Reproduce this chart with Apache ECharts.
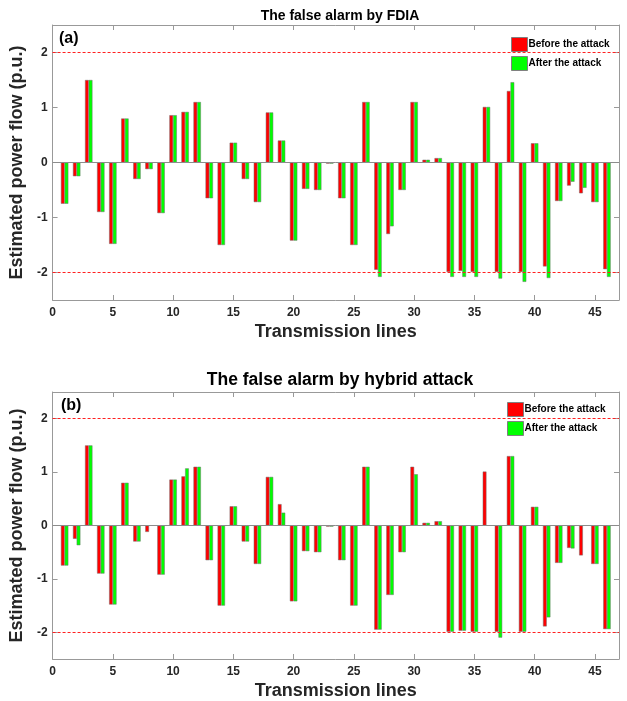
<!DOCTYPE html>
<html>
<head>
<meta charset="utf-8">
<script src="https://cdn.jsdelivr.net/npm/echarts@6/dist/echarts.min.js"></script>
<style>
html,body{margin:0;padding:0;background:#fff;}
#main{width:627px;height:701px;}
</style>
</head>
<body>
<div id="main"></div>
<script>
var lines = [1,2,3,4,5,6,7,8,9,10,11,12,13,14,15,16,17,18,19,20,21,22,23,24,25,26,27,28,29,30,31,32,33,34,35,36,37,38,39,40,41,42,43,44,45,46];
var beforeA = [-0.75,-0.25,1.5,-0.9,-1.48,0.8,-0.3,-0.12,-0.92,0.86,0.92,1.1,-0.65,-1.5,0.36,-0.3,-0.72,0.91,0.4,-1.42,-0.48,-0.5,-0.02,-0.65,-1.5,1.1,-1.95,-1.3,-0.5,1.1,0.05,0.08,-1.99,-1.97,-1.99,1.01,-1.99,1.3,-1.99,0.35,-1.89,-0.7,-0.42,-0.56,-0.72,-1.94];
var afterA = [-0.75,-0.25,1.5,-0.9,-1.48,0.8,-0.3,-0.12,-0.92,0.86,0.92,1.1,-0.65,-1.5,0.36,-0.3,-0.72,0.91,0.4,-1.42,-0.48,-0.5,-0.02,-0.65,-1.5,1.1,-2.08,-1.16,-0.5,1.1,0.05,0.08,-2.08,-2.08,-2.08,1.01,-2.11,1.46,-2.17,0.35,-2.1,-0.7,-0.35,-0.46,-0.72,-2.08];
var beforeB = [-0.75,-0.25,1.5,-0.9,-1.48,0.8,-0.3,-0.12,-0.92,0.86,0.92,1.1,-0.65,-1.5,0.36,-0.3,-0.72,0.91,0.4,-1.42,-0.48,-0.5,-0.02,-0.65,-1.5,1.1,-1.95,-1.3,-0.5,1.1,0.05,0.08,-1.99,-1.97,-1.99,1.01,-1.99,1.3,-1.99,0.35,-1.89,-0.7,-0.42,-0.56,-0.72,-1.94];
var afterB = [-0.75,-0.37,1.5,-0.9,-1.48,0.8,-0.3,0,-0.92,0.86,1.07,1.1,-0.65,-1.5,0.36,-0.3,-0.72,0.91,0.24,-1.42,-0.48,-0.5,-0.02,-0.65,-1.5,1.1,-1.95,-1.3,-0.5,0.96,0.05,0.08,-1.99,-1.97,-1.99,0,-2.1,1.3,-1.99,0.35,-1.72,-0.7,-0.43,0,-0.72,-1.94];
var thresholds = [2,-2];
var baseline = [0];
var titles = ['The false alarm by FDIA','The false alarm by hybrid attack'];
var panelTags = ['(a)','(b)'];
var legendNames = ['Before the attack','After the attack'];

function pairs(vals){ return lines.map(function(x,i){ return [x, vals[i]]; }); }

var FONT = '"Liberation Sans", Arial, sans-serif';
var AX = '#999999';
var TXT = '#262626';

var grids = [
  {left:51, right:8, top:25, height:275},
  {left:51, right:8, top:392, height:267}
];

function xMain(g){
  return {type:'value', gridIndex:g, min:0, max:47, interval:5, position:'bottom',
    name:'Transmission lines', nameLocation:'middle', nameGap:23,
    nameTextStyle:{fontFamily:FONT, fontWeight:'bold', fontSize:18, color:TXT},
    axisLine:{show:true, onZero:false, lineStyle:{color:AX, width:1}},
    axisTick:{show:true, inside:true, length:5, lineStyle:{color:AX}},
    axisLabel:{show:true, showMaxLabel:false, margin:7, fontFamily:FONT, fontWeight:'bold', fontSize:12, color:TXT},
    splitLine:{show:false}};
}
function xTop(g){
  return {type:'value', gridIndex:g, min:0, max:47, interval:5, position:'top',
    axisLine:{show:true, onZero:false, lineStyle:{color:AX, width:1}},
    axisTick:{show:true, inside:true, length:5, lineStyle:{color:AX}},
    axisLabel:{show:false}, splitLine:{show:false}};
}
function yMain(g){
  return {type:'value', gridIndex:g, min:-2.5, max:2.5, splitNumber:5, position:'left',
    name:'Estimated power flow (p.u.)', nameLocation:'middle', nameGap:22, nameRotate:90,
    nameTextStyle:{fontFamily:FONT, fontWeight:'bold', fontSize:18, color:TXT},
    axisLine:{show:true, onZero:false, lineStyle:{color:AX, width:1}},
    axisTick:{show:true, inside:true, length:5, lineStyle:{color:AX}},
    axisLabel:{show:true, showMinLabel:false, showMaxLabel:false, margin:5, fontFamily:FONT, fontWeight:'bold', fontSize:12, color:TXT},
    splitLine:{show:false}};
}
function yRight(g){
  return {type:'value', gridIndex:g, min:-2.5, max:2.5, splitNumber:5, position:'right',
    axisLine:{show:true, onZero:false, lineStyle:{color:AX, width:1}},
    axisTick:{show:true, inside:true, length:5, lineStyle:{color:AX}},
    axisLabel:{show:false}, splitLine:{show:false}};
}

function barSeries(name, vals, color, xi, yi, mark){
  var s = {type:'bar', name:name, xAxisIndex:xi, yAxisIndex:yi, data:pairs(vals),
    barWidth:3.7, barGap:'0%',
    itemStyle:{color:color, borderColor:'#707070', borderWidth:0.5},
    emphasis:{disabled:true}, animation:false};
  if (mark === 'thr'){
    s.markLine = {silent:true, symbol:['none','none'], label:{show:false}, animation:false,
      lineStyle:{color:'#ff2020', type:[3,2], width:1},
      data: thresholds.map(function(t){ return {yAxis:t}; })};
  } else if (mark === 'base'){
    s.markLine = {silent:true, symbol:['none','none'], label:{show:false}, animation:false,
      lineStyle:{color:'#8c8c8c', type:'solid', width:1},
      data: baseline.map(function(t){ return {yAxis:t}; })};
  }
  return s;
}

function legendAt(left, top){
  return {data:legendNames, orient:'vertical', left:left, top:top, padding:0,
    itemWidth:16, itemHeight:14, itemGap:4,
    icon:'rect', itemStyle:{borderColor:'#808080', borderWidth:1},
    textStyle:{fontFamily:FONT, fontWeight:'bold', fontSize:10, color:'#000', padding:[0,0,0,-4]},
    selectedMode:false};
}

var option = {
  backgroundColor:'#ffffff',
  animation:false,
  title:[
    {text:titles[0], left:335, textAlign:'center', top:4, textStyle:{fontFamily:FONT, fontWeight:'bold', fontSize:14, color:'#000'}},
    {text:titles[1], left:335, textAlign:'center', top:366, textStyle:{fontFamily:FONT, fontWeight:'bold', fontSize:17.5, color:'#000'}},
    {text:panelTags[0], left:54, top:26, textStyle:{fontFamily:FONT, fontWeight:'bold', fontSize:16, color:'#000'}},
    {text:panelTags[1], left:56, top:393, textStyle:{fontFamily:FONT, fontWeight:'bold', fontSize:16, color:'#000'}}
  ],
  legend:[legendAt(511, 37), legendAt(507, 402)],
  grid:grids,
  xAxis:[xMain(0), xTop(0), xMain(1), xTop(1)],
  yAxis:[yMain(0), yRight(0), yMain(1), yRight(1)],
  series:[
    barSeries(legendNames[0], beforeA, '#ff0000', 0, 0, 'thr'),
    barSeries(legendNames[1], afterA, '#00ff00', 0, 0, 'base'),
    barSeries(legendNames[0], beforeB, '#ff0000', 2, 2, 'thr'),
    barSeries(legendNames[1], afterB, '#00ff00', 2, 2, 'base')
  ]
};

var chart = echarts.init(document.getElementById('main'), null, {renderer:'canvas'});
chart.setOption(option);
</script>
</body>
</html>
